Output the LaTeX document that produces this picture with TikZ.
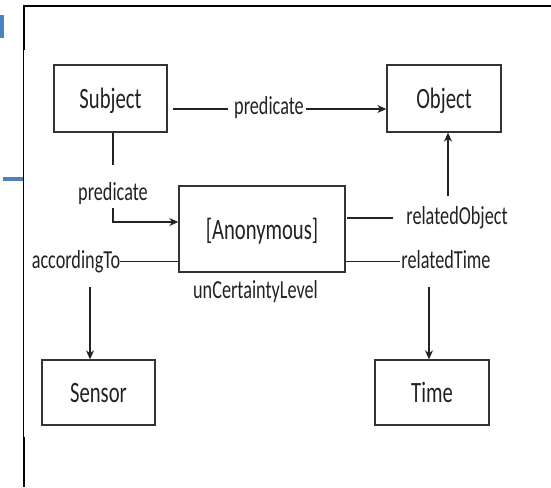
\documentclass[tikz,border=0pt]{standalone}
\usepackage{fontspec}
\usepackage{graphicx}
\setmainfont{Carlito}
\usetikzlibrary{arrows.meta,calc}
\newcommand\sqz[1]{\scalebox{0.7}[1]{#1}}
\definecolor{inkc}{HTML}{222222}
\definecolor{boxc}{HTML}{333333}
\definecolor{bluec}{HTML}{4F81BD}
\begin{document}
\begin{tikzpicture}[x=1pt,y=-1pt,
  box/.style={draw=boxc,line width=1.4pt,minimum width=113pt,minimum height=66pt,
    inner sep=0pt,text=inkc,text height=20pt,text depth=0pt,font=\fontsize{29.5}{30}\selectfont},
  lbl/.style={inner sep=0pt,anchor=base,text=inkc,font=\fontsize{26}{27}\selectfont},
  conn/.style={draw=inkc,line width=1.1pt},
  arr/.style={conn,-{Stealth[length=9pt,width=8pt]}},
  frame/.style={draw=black,line width=1.5pt}]
\useasboundingbox (0,0) rectangle (551,487);
\fill[white] (0,0) rectangle (551,487);
% screenshot frame and blue marks
\draw[frame] (551,6) -- (23.5,6) -- (23.5,487);
\draw[black,line width=2.5pt] (24,5) -- (24,50);
\draw[black,line width=2.5pt] (24,437) -- (24,487);
\fill[bluec] (0,15) rectangle (4,38);
\draw[bluec,line width=4pt] (3,179) -- (23,179);
% boxes
\node[box,minimum width=113pt,minimum height=67pt] (Subject) at (110.5,98.5) {\sqz{Subject}};
\node[box,minimum width=114pt,minimum height=67pt] (Object) at (444,98.5) {\sqz{Object}};
\node[box,minimum width=166pt,minimum height=86pt] (Anon) at (262,229) {\sqz{[Anonymous]}};
\node[box,minimum width=113pt,minimum height=65pt] (Sensor) at (98.5,392.5) {\sqz{Sensor}};
\node[box,minimum width=114pt,minimum height=65pt] (Time) at (432,392.5) {\sqz{Time}};
% labels
\node[lbl] (pred1) at (269,114) {\sqz{predicate}};
\node[lbl] (pred2) at (113,200) {\sqz{predicate}};
\node[lbl] (relObj) at (457,224) {\sqz{relatedObject}};
\node[lbl] (accTo) at (76,268) {\sqz{accordingTo}};
\node[lbl] (relTime) at (446,268) {\sqz{relatedTime}};
\node[lbl] (unc) at (255.5,298) {\sqz{unCertaintyLevel}};
% coordinates
\coordinate (p1a) at (173,109);
\coordinate (p1b) at (228,109);
\coordinate (p1c) at (306,109);
\coordinate (s1) at (113,165);
\coordinate (s2) at (113,208);
\coordinate (s3) at (113,222);
\coordinate (ro1) at (347,218);
\coordinate (ro2) at (393,218);
\coordinate (ro3) at (448,196);
\coordinate (ac1) at (120,261.5);
\coordinate (ac2) at (90,287);
\coordinate (rt1) at (400,261.5);
\coordinate (rt2) at (429,287);
% connectors
\draw[conn] (p1a) -- (p1b);
\draw[arr] (p1c) -- (p1c -| Object.west);
\draw[conn] (s1 |- Subject.south) -- (s1);
\draw[arr] (s2) -- (s3) -- (s3 -| Anon.west);
\draw[conn] (ro1) -- (ro2);
\draw[arr] (ro3) -- (ro3 |- Object.south);
\draw[conn] (ac1) -- (ac1 -| Anon.west);
\draw[arr] (ac2) -- (ac2 |- Sensor.north);
\draw[conn] (rt1 -| Anon.east) -- (rt1);
\draw[arr] (rt2) -- (rt2 |- Time.north);
\end{tikzpicture}
\end{document}
